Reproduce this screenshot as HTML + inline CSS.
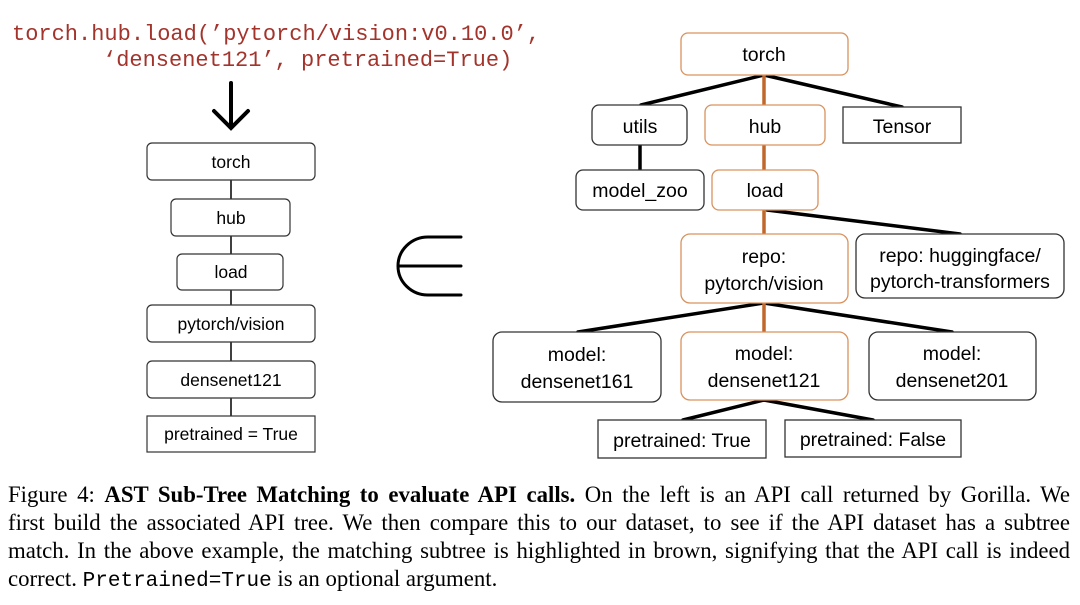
<!DOCTYPE html>
<html><head><meta charset="utf-8"><style>
body{margin:0;width:1080px;height:605px;background:#fff;position:relative;overflow:hidden}
svg{position:absolute;left:0;top:0}
.cap{position:absolute;left:8px;width:1062px;font-family:"Liberation Serif",serif;font-size:22.8px;color:#000;white-space:nowrap;text-align:justify;text-align-last:justify;line-height:28px}
.cap.last{text-align-last:left}
.m{font-family:"Liberation Mono",monospace;font-size:21px}
</style></head><body>
<svg width="1080" height="470" viewBox="0 0 1080 470" font-family="Liberation Sans, sans-serif">
<g font-family="Liberation Mono, monospace" font-size="22" fill="#a3342c">
<text x="12" y="40">torch.hub.load(’pytorch/vision:v0.10.0’,</text>
<text x="103" y="66">‘densenet121’, pretrained=True)</text>
</g>
<g stroke="#000" stroke-width="4" fill="none" stroke-linecap="round">
<line x1="231" y1="83" x2="231" y2="127"/>
<polyline points="214,111 231,128 248,111"/>
</g>
<path d="M461 237 H428 A30 29 0 0 0 428 295 H461 M398 266 H461" stroke="#000" stroke-width="3" fill="none" stroke-linecap="round"/>
<g stroke="#000" stroke-width="1.5">
<line x1="231" y1="180" x2="231" y2="199"/>
<line x1="231" y1="236" x2="231" y2="254"/>
<line x1="231" y1="290" x2="231" y2="305"/>
<line x1="231" y1="342" x2="231" y2="361"/>
<line x1="231" y1="398" x2="231" y2="416"/>
</g>
<g fill="#fff" stroke="#333" stroke-width="1.2">
<rect x="147" y="143" width="168" height="37" rx="5"/>
<rect x="171" y="199" width="119" height="37" rx="5"/>
<rect x="177" y="254" width="106" height="36" rx="5"/>
<rect x="147" y="305" width="168" height="37" rx="5"/>
<rect x="147" y="361" width="168" height="37" rx="5"/>
<rect x="147" y="416" width="168" height="36"/>
</g>
<g font-size="17.5" text-anchor="middle" fill="#000">
<text x="231" y="168">torch</text>
<text x="231" y="224">hub</text>
<text x="231" y="278">load</text>
<text x="231" y="330">pytorch/vision</text>
<text x="231" y="386">densenet121</text>
<text x="231" y="440">pretrained = True</text>
</g>
<g stroke="#000" stroke-width="3.5" stroke-linecap="round">
<line x1="764" y1="75" x2="641" y2="105"/>
<line x1="764" y1="75" x2="902" y2="107"/>
<line x1="640" y1="145" x2="640" y2="170"/>
<line x1="767" y1="210" x2="960" y2="234"/>
<line x1="764" y1="303" x2="578" y2="332"/>
<line x1="764" y1="303" x2="952" y2="332"/>
<line x1="764" y1="400" x2="683" y2="420"/>
<line x1="764" y1="400" x2="873" y2="420"/>
</g>
<g stroke="#c0682c" stroke-width="3.5">
<line x1="764" y1="75" x2="764" y2="105"/>
<line x1="764" y1="145" x2="764" y2="170"/>
<line x1="764" y1="210" x2="764" y2="234"/>
<line x1="764" y1="303" x2="764" y2="332"/>
</g>
<g fill="#fff" stroke="#d9925e" stroke-width="1.3">
<rect x="681" y="33" width="167" height="42" rx="7"/>
<rect x="705" y="105" width="120" height="40" rx="7"/>
<rect x="712" y="170" width="106" height="40" rx="7"/>
<rect x="681" y="234" width="167" height="69" rx="9"/>
<rect x="681" y="332" width="167" height="68" rx="9"/>
</g>
<g fill="#fff" stroke="#333" stroke-width="1.3">
<rect x="592" y="105" width="95" height="40" rx="7"/>
<rect x="843" y="107" width="118" height="36"/>
<rect x="576" y="170" width="128" height="40" rx="7"/>
<rect x="856" y="234" width="208" height="64" rx="9"/>
<rect x="493" y="332" width="168" height="70" rx="9"/>
<rect x="869" y="332" width="167" height="68" rx="9"/>
<rect x="598" y="420" width="168" height="38"/>
<rect x="785" y="420" width="176" height="37"/>
</g>
<g font-size="19.5" text-anchor="middle" fill="#000">
<text x="764" y="61">torch</text>
<text x="640" y="133">utils</text>
<text x="765" y="133">hub</text>
<text x="902" y="133">Tensor</text>
<text x="640" y="197">model_zoo</text>
<text x="765" y="197">load</text>
<text x="764" y="263">repo:</text>
<text x="764" y="290">pytorch/vision</text>
<text x="960" y="262">repo: huggingface/</text>
<text x="960" y="288">pytorch-transformers</text>
<text x="577" y="361">model:</text>
<text x="577" y="388">densenet161</text>
<text x="764" y="360">model:</text>
<text x="764" y="387">densenet121</text>
<text x="952" y="360">model:</text>
<text x="952" y="387">densenet201</text>
<text x="682" y="447">pretrained: True</text>
<text x="873" y="446">pretrained: False</text>
</g>
</svg>
<div class="cap" style="top:481px">Figure 4: <b>AST Sub-Tree Matching to evaluate API calls.</b> On the left is an API call returned by Gorilla. We</div>
<div class="cap" style="top:509px">first build the associated API tree. We then compare this to our dataset, to see if the API dataset has a subtree</div>
<div class="cap" style="top:537px">match. In the above example, the matching subtree is highlighted in brown, signifying that the API call is indeed</div>
<div class="cap last" style="top:565px">correct. <span class="m">Pretrained=True</span> is an optional argument.</div>
</body></html>
